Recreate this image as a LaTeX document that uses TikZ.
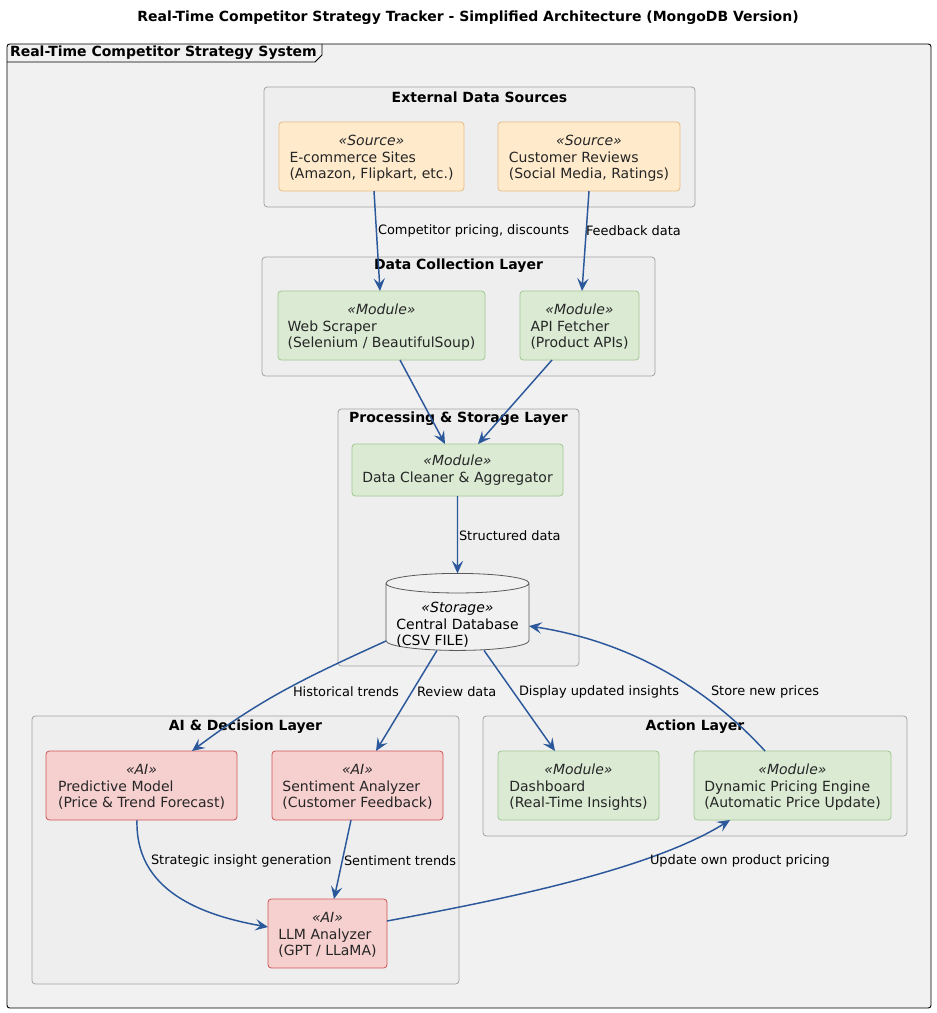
\documentclass[tikz,border=0pt]{standalone}
\usepackage{fontspec}
\setmainfont{DejaVu Sans}
\usetikzlibrary{shapes.geometric,arrows.meta,calc}

\definecolor{framebg}{HTML}{F1F1F1}
\definecolor{clusterbg}{HTML}{EEEEEE}
\definecolor{clusterline}{HTML}{A2A2A2}
\definecolor{srcfill}{HTML}{FFEACC}
\definecolor{srcline}{HTML}{E6BD86}
\definecolor{modfill}{HTML}{DAEAD3}
\definecolor{modline}{HTML}{A2C892}
\definecolor{aifill}{HTML}{F6CFCF}
\definecolor{ailine}{HTML}{CF5656}
\definecolor{flow}{HTML}{2B579B}
\definecolor{bodytext}{HTML}{262626}

% stereotype line centred, body lines left-aligned; the box is given no
% height so that the node's fixed size decides its outline
\newcommand{\boxtext}[3]{%
  \raisebox{-4.5pt}[0pt][0pt]{\begin{tabular}{@{}l@{}}\multicolumn{1}{@{}c@{}}{\itshape «#1»}\\#2\\#3\end{tabular}}}

\begin{document}
\begin{tikzpicture}[x=0.75pt,y=-0.75pt,
  every node/.style={inner sep=0pt, outer sep=0pt},
  cluster/.style={draw=clusterline, fill=clusterbg, rounded corners=2.5pt, line width=0.6pt},
  ctitle/.style={font=\fontsize{10.5}{12.5}\selectfont\bfseries},
  elem/.style={rounded corners=2.5pt, line width=0.6pt, text=bodytext,
    font=\fontsize{10.5}{12.4}\selectfont, align=left},
  source/.style={elem, draw=srcline, fill=srcfill},
  module/.style={elem, draw=modline, fill=modfill},
  ai/.style={elem, draw=ailine, fill=aifill},
  store/.style={cylinder, shape border rotate=90, aspect=0.16, draw=black!65,
    fill=framebg, line width=0.6pt, text=black, font=\fontsize{10.5}{12.4}\selectfont},
  flowline/.style={draw=flow, line width=1.1pt,
    -{Stealth[length=9.5pt, width=8.5pt, inset=3.8pt]}},
  lbl/.style={anchor=west, font=\fontsize{9.7}{11.5}\selectfont, text=black}
]
\useasboundingbox (0,0) rectangle (936,1013);

% heading
\node[font=\fontsize{10.5}{12.5}\selectfont\bfseries] (heading) at (468,18)
  {Real-Time Competitor Strategy Tracker - Simplified Architecture (MongoDB Version)};

% outer system frame with its name tab
\draw[fill=framebg, draw=black, line width=0.7pt, rounded corners=2pt]
  (7,44) rectangle (931,1008);
\draw[black, line width=0.7pt] (7,62) -- (315,62) -- (322,55) -- (322,44);
\node[anchor=west, font=\fontsize{10.5}{12.5}\selectfont\bfseries] (systitle) at (10,53)
  {Real-Time Competitor Strategy System};

% layers
\path[cluster] (264,87) rectangle (695,207);
\node[ctitle] (extT) at (479.5,97) {External Data Sources};
\path[cluster] (262,257) rectangle (655,376);
\node[ctitle] (dclT) at (458.5,266) {Data Collection Layer};
\path[cluster] (338,409) rectangle (579,666);
\node[ctitle] (pslT) at (458.5,419) {Processing \& Storage Layer};
\path[cluster] (32,716) rectangle (459,984);
\node[ctitle] (aiT) at (245.5,727) {AI \& Decision Layer};
\path[cluster] (483,716) rectangle (907,836);
\node[ctitle] (actT) at (695,727) {Action Layer};

% components
\node[source, minimum width=138.75pt, minimum height=51.75pt] (ec) at (371.5,156.5)
  {\boxtext{Source}{E-commerce Sites}{(Amazon, Flipkart, etc.)}};
\node[source, minimum width=136.5pt, minimum height=51.75pt] (cr) at (589,156.5)
  {\boxtext{Source}{Customer Reviews}{(Social Media, Ratings)}};
\node[module, minimum width=155.25pt, minimum height=51.75pt] (ws) at (381.5,325.5)
  {\boxtext{Module}{Web Scraper}{(Selenium / BeautifulSoup)}};
\node[module, minimum width=89.25pt, minimum height=51.75pt] (api) at (579.5,325.5)
  {\boxtext{Module}{API Fetcher}{(Product APIs)}};
\node[module, minimum width=158.25pt, minimum height=39pt, align=center] (dc) at (457.5,470)
  {{\itshape «Module»}\\Data Cleaner \& Aggregator};
\node[store, minimum width=107.25pt, minimum height=57.75pt] (db) at (457.5,617)
  {\raisebox{-9.3pt}[0pt][0pt]{\begin{tabular}{@{}l@{}}\multicolumn{1}{@{}c@{}}{\itshape «Storage»}\\Central Database\\(CSV FILE)\end{tabular}}};
\node[ai, minimum width=143.25pt, minimum height=51.75pt] (pm) at (141.5,785.5)
  {\boxtext{AI}{Predictive Model}{(Price \& Trend Forecast)}};
\node[ai, minimum width=128.25pt, minimum height=51.75pt] (sa) at (357.5,785.5)
  {\boxtext{AI}{Sentiment Analyzer}{(Customer Feedback)}};
\node[ai, minimum width=89.25pt, minimum height=51.75pt] (llm) at (327.5,933.5)
  {\boxtext{AI}{LLM Analyzer}{(GPT / LLaMA)}};
\node[module, minimum width=120.75pt, minimum height=51.75pt] (dash) at (578.5,785.5)
  {\boxtext{Module}{Dashboard}{(Real-Time Insights)}};
\node[module, minimum width=147.75pt, minimum height=51.75pt] (dp) at (792.5,785.5)
  {\boxtext{Module}{Dynamic Pricing Engine}{(Automatic Price Update)}};

% data flows
\draw[flowline] ($(ec.south)+(2.5,0)$) -- ($(ws.north)+(-1.5,0)$);
\draw[flowline] (cr.south) -- ($(api.north)+(2.5,0)$);
\draw[flowline] ($(ws.south)+(18.5,0)$) -- ($(dc.north)+(-12.5,0)$);
\draw[flowline] ($(api.south)+(-27.5,0)$) -- ($(dc.north)+(20.5,0)$);
\draw[flowline] (dc.south) -- (db.north);
\draw[flowline] ($(db.center)+(-71.5,24)$) .. controls (300,680) and (260,700) .. ($(pm.north)+(50.5,0)$);
\draw[flowline] ($(db.south)+(-20.5,0)$) -- ($(sa.north)+(18.5,0)$);
\draw[flowline] ($(db.south)+(26.5,0)$) -- ($(dash.north)+(-23.5,0)$);
\draw[flowline] ($(dp.north)+(-27.5,0)$) .. controls (700,680) and (620,640) .. ($(db.east)+(0,9)$);
\draw[flowline] ($(pm.south)+(-4.5,0)$) .. controls (135,890) and (200,915) .. ($(llm.west)+(0,-6.5)$);
\draw[flowline] ($(sa.south)+(-6.5,0)$) -- ($(llm.north)+(6.5,0)$);
\draw[flowline] ($(llm.east)+(0,-12.5)$) .. controls (500,900) and (650,870) .. ($(dp.south)+(-62.5,0)$);

% flow labels
\node[lbl] (l1) at (378,231) {Competitor pricing, discounts};
\node[lbl] (l2) at (586,231) {Feedback data};
\node[lbl] (l3) at (459,536) {Structured data};
\node[lbl] (l4) at (293,692) {Historical trends};
\node[lbl] (l5) at (417,692) {Review data};
\node[lbl] (l6) at (519,692) {Display updated insights};
\node[lbl] (l7) at (711,692) {Store new prices};
\node[lbl] (l8) at (151,861) {Strategic insight generation};
\node[lbl] (l9) at (344,861) {Sentiment trends};
\node[lbl] (l10) at (650,861) {Update own product pricing};
\end{tikzpicture}
\end{document}
